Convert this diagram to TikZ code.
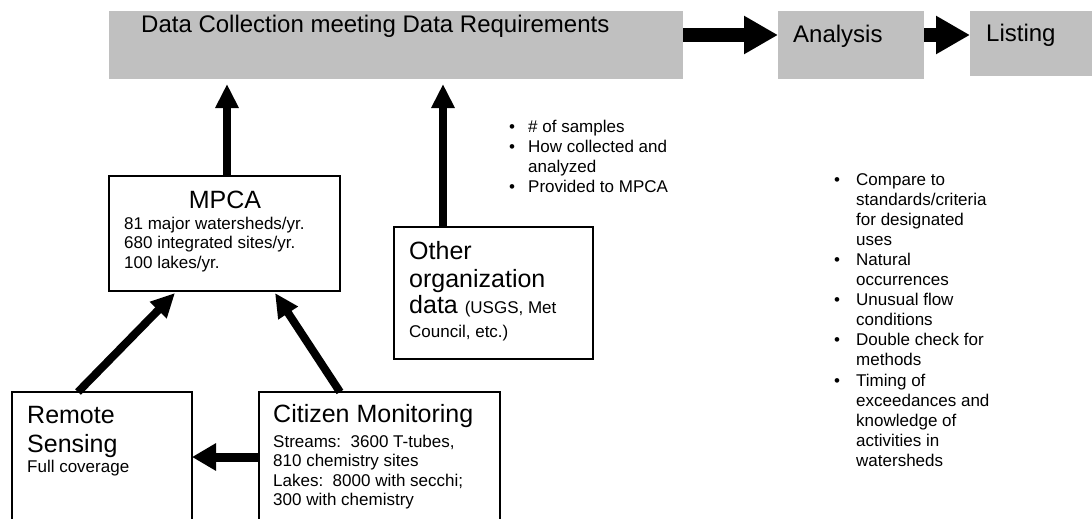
\documentclass[tikz,border=0pt]{standalone}
\usepackage{fontspec}
\setmainfont{Liberation Sans}
\usetikzlibrary{arrows.meta}
\definecolor{graybox}{RGB}{192,192,192}
\begin{document}
\begin{tikzpicture}[x=1pt,y=-1pt,
  gbox/.style={fill=graybox, draw=none, inner sep=0pt, outer sep=0pt, anchor=north west},
  wbox/.style={draw=black, line width=1.5pt, fill=white, inner sep=0pt, outer sep=0pt, anchor=north west},
  bigtxt/.style={font=\fontsize{25}{27}\selectfont, inner sep=0pt, anchor=base west},
  toptxt/.style={font=\fontsize{24}{26}\selectfont, inner sep=0pt, anchor=base west},
  smalltxt/.style={font=\fontsize{17}{19.5}\selectfont, inner sep=0pt, anchor=base west},
  bul/.style={font=\fontsize{17}{19.5}\selectfont, inner sep=0pt, anchor=base},
  fatarrow/.style={line width=14pt, -{Triangle[width=36pt,length=34pt]}},
  thinarrow/.style={line width=8pt, -{Triangle[width=22pt,length=24pt]}},
]
\useasboundingbox (0,0) rectangle (1092,519);
\clip (0,0) rectangle (1092,519);

% gray process boxes
\node[gbox, minimum width=574pt, minimum height=68pt] (data) at (109,11) {};
\node[gbox, minimum width=146pt, minimum height=68pt] (analysis) at (778,11) {};
\node[gbox, minimum width=130pt, minimum height=65pt] (listing) at (970,11) {};
\node[toptxt] (dataT) at (141,33) {Data Collection meeting Data Requirements};
\node[toptxt] (analysisT) at (793,43) {Analysis};
\node[toptxt] (listingT) at (986,42) {Listing};

% white boxes
\node[wbox, minimum width=231pt, minimum height=115pt] (mpca) at (109,176) {};
\node[wbox, minimum width=199pt, minimum height=132pt] (other) at (394,227) {};
\node[wbox, minimum width=180pt, minimum height=150pt] (remote) at (12,392) {};
\node[wbox, minimum width=241pt, minimum height=150pt] (citizen) at (259,392) {};

% MPCA text
\node[bigtxt, anchor=base] (mpcaT) at (225,208) {MPCA};
\node[smalltxt] (mpca1) at (124,229) {81 major watersheds/yr.};
\node[smalltxt] (mpca2) at (124,248.5) {680 integrated sites/yr.};
\node[smalltxt] (mpca3) at (124,268) {100 lakes/yr.};

% Other text
\node[bigtxt] (otherT1) at (409,259) {Other};
\node[bigtxt] (otherT2) at (409,287) {organization};
\node[bigtxt] (otherT3) at (409,313) {data {\fontsize{17}{19.5}\selectfont (USGS, Met}};
\node[smalltxt] (otherT4) at (409,337) {Council, etc.)};

% Remote text
\node[bigtxt] (remoteT1) at (27,423) {Remote};
\node[bigtxt] (remoteT2) at (27,452) {Sensing};
\node[smalltxt] (remoteT3) at (27,472) {Full coverage};

% Citizen text
\node[bigtxt] (citT) at (273,422) {Citizen Monitoring};
\node[smalltxt] (cit1) at (273,447) {Streams:\ \ 3600 T-tubes,};
\node[smalltxt] (cit2) at (273,466.5) {810 chemistry sites};
\node[smalltxt] (cit3) at (273,486) {Lakes:\ \ 8000 with secchi;};
\node[smalltxt] (cit4) at (273,505.5) {300 with chemistry};

% bullet list (data requirements)
\foreach \t [count=\i from 0] in {\# of samples, How collected and, analyzed, Provided to MPCA}
  \node[smalltxt] (la\i) at (528,{132+20.1*\i}) {\t};
\foreach \i in {0,1,3}
  \node[bul] (ba\i) at (512,{132+20.1*\i}) {•};

% bullet list (analysis)
\foreach \t [count=\i from 0] in {Compare to, standards/criteria, for designated, uses, Natural, occurrences, Unusual flow, conditions, Double check for, methods, Timing of, exceedances and, knowledge of, activities in, watersheds}
  \node[smalltxt] (lb\i) at (856,{185+20.1*\i}) {\t};
\foreach \i in {0,4,6,8,10}
  \node[bul] (bb\i) at (837,{185+20.1*\i}) {•};

% arrows
\draw[fatarrow] ([yshift=10pt]data.east) -- ([yshift=10pt]analysis.west);
\draw[fatarrow] ([yshift=10pt]analysis.east) -- ([yshift=10pt]analysis.east -| listing.west);
\draw[thinarrow, shorten >=5pt] ([xshift=2.5pt]mpca.north) -- ([xshift=2.5pt]mpca.north |- data.south);
\draw[thinarrow, shorten >=5pt] ([xshift=49pt]other.north west) -- ([xshift=49pt]other.north west |- data.south);
\draw[thinarrow] ([xshift=66pt]remote.north west) -- ([xshift=-49.5pt,yshift=-2pt]mpca.south);
\draw[thinarrow] ([xshift=81pt]citizen.north west) -- ([xshift=50.5pt,yshift=-2pt]mpca.south);
\draw[line width=9pt, -{Triangle[width=26pt,length=24pt]}] ([yshift=-65pt]citizen.north west) -- ([yshift=-65pt]citizen.north west -| remote.east);
\end{tikzpicture}
\end{document}
